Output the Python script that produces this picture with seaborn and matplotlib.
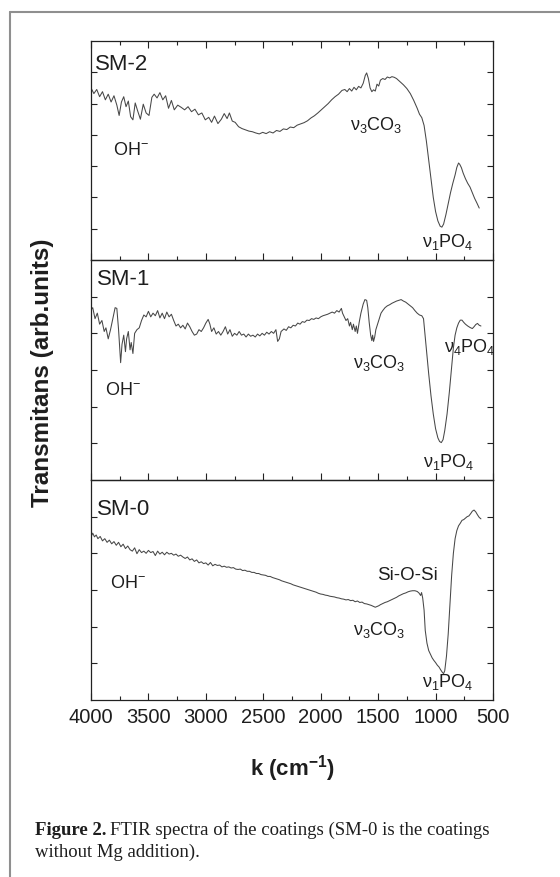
"""
FTIR spectra of the coatings SM-2, SM-1, SM-0 (stacked panels).
"""

import matplotlib
matplotlib.use('Agg')
import matplotlib.pyplot as plt
from matplotlib.lines import Line2D
from matplotlib.ticker import MultipleLocator, FixedLocator, NullFormatter
import seaborn as sns
import pandas as pd

# ---- data (wavenumber in cm-1, transmittance in arb. units) ----
sm2_k = [4000, 3975, 3950, 3925, 3900, 3875, 3850, 3825, 3800, 3775, 3755, 3735,
         3715, 3695, 3675, 3655, 3635, 3615, 3595, 3570, 3545, 3520, 3495, 3470,
         3450, 3425, 3400, 3375, 3350, 3325, 3300, 3275, 3245, 3215, 3185, 3155,
         3125, 3095, 3065, 3035, 3005, 2975, 2950, 2925, 2895, 2865, 2840, 2815,
         2795, 2770, 2745, 2715, 2685, 2655, 2625, 2595, 2565, 2535, 2505, 2475,
         2445, 2415, 2385, 2355, 2325, 2295, 2265, 2235, 2205, 2175, 2145, 2115,
         2085, 2055, 2025, 1995, 1965, 1935, 1905, 1875, 1845, 1815, 1790, 1770,
         1750, 1730, 1710, 1690, 1670, 1650, 1630, 1612, 1600, 1585, 1570, 1555,
         1540, 1525, 1510, 1495, 1480, 1460, 1440, 1420, 1400, 1380, 1360, 1340,
         1310, 1280, 1250, 1220, 1190, 1160, 1140, 1120, 1100, 1080, 1060, 1040,
         1020, 1000, 980, 960, 945, 930, 910, 890, 870, 850, 830, 815, 800, 790,
         775, 760, 740, 720, 700, 680, 660, 640, 620]
sm2_t = [5.50, 5.32, 5.45, 5.22, 5.38, 5.12, 5.30, 5.05, 5.25, 4.95, 4.62, 5.05,
         5.22, 4.90, 5.08, 4.58, 4.48, 5.02, 4.78, 4.50, 4.98, 4.70, 4.62, 5.20,
         5.30, 5.18, 5.35, 5.12, 5.25, 4.85, 5.10, 4.80, 4.95, 4.88, 4.80, 4.90,
         4.74, 4.82, 4.64, 4.70, 4.48, 4.56, 4.40, 4.60, 4.36, 4.50, 4.68, 4.52,
         4.70, 4.44, 4.40, 4.26, 4.20, 4.16, 4.12, 4.10, 4.06, 4.03, 4.08, 4.04,
         4.10, 4.06, 4.14, 4.11, 4.19, 4.17, 4.25, 4.23, 4.31, 4.35, 4.39, 4.45,
         4.54, 4.61, 4.70, 4.80, 4.90, 5.00, 5.12, 5.22, 5.30, 5.42, 5.45, 5.38,
         5.48, 5.40, 5.52, 5.44, 5.55, 5.50, 5.65, 5.90, 5.98, 5.80, 5.50, 5.38,
         5.44, 5.40, 5.62, 5.56, 5.75, 5.80, 5.77, 5.85, 5.82, 5.86, 5.84, 5.80,
         5.70, 5.60, 5.48, 5.32, 5.10, 4.85, 4.66, 4.55, 4.30, 3.80, 3.20, 2.60,
         2.00, 1.55, 1.25, 1.08, 1.05, 1.15, 1.45, 1.80, 2.15, 2.45, 2.72, 2.96,
         3.10, 3.06, 2.95, 2.78, 2.60, 2.45, 2.33, 2.15, 1.97, 1.82, 1.66]

sm1_k = [4000, 3985, 3965, 3945, 3925, 3905, 3885, 3870, 3850, 3830, 3810, 3790,
         3775, 3760, 3742, 3730, 3715, 3700, 3690, 3675, 3660, 3650, 3635, 3620,
         3600, 3580, 3560, 3540, 3520, 3500, 3480, 3460, 3440, 3420, 3400, 3380,
         3360, 3340, 3320, 3300, 3280, 3260, 3240, 3220, 3200, 3180, 3160, 3140,
         3120, 3100, 3080, 3060, 3040, 3020, 3000, 2980, 2965, 2950, 2930, 2910,
         2890, 2870, 2850, 2830, 2810, 2790, 2770, 2750, 2730, 2710, 2690, 2670,
         2650, 2630, 2610, 2590, 2570, 2550, 2530, 2510, 2490, 2470, 2450, 2430,
         2410, 2390, 2375, 2360, 2345, 2320, 2300, 2280, 2260, 2240, 2220, 2200,
         2180, 2160, 2140, 2120, 2100, 2080, 2060, 2040, 2020, 2000, 1980, 1960,
         1940, 1920, 1900, 1880, 1860, 1840, 1820, 1810, 1795, 1780, 1765, 1750,
         1740, 1725, 1715, 1700, 1690, 1680, 1665, 1650, 1630, 1615, 1600, 1590,
         1578, 1565, 1555, 1548, 1540, 1530, 1520, 1505, 1490, 1475, 1460, 1440,
         1420, 1400, 1380, 1360, 1340, 1320, 1300, 1280, 1260, 1240, 1220, 1200,
         1180, 1160, 1140, 1120, 1105, 1090, 1075, 1060, 1040, 1020, 1000, 980,
         965, 950, 935, 920, 900, 880, 860, 845, 830, 815, 800, 785, 770, 755,
         740, 720, 700, 680, 665, 650, 635, 620, 605]
sm1_t = [4.64, 4.70, 4.40, 4.55, 4.25, 4.35, 4.05, 4.15, 3.85, 4.10, 4.40, 4.70,
         4.68, 4.10, 3.20, 3.70, 3.95, 3.50, 3.85, 4.05, 3.55, 3.75, 3.45, 4.00,
         4.10, 4.15, 4.35, 4.50, 4.45, 4.60, 4.45, 4.55, 4.48, 4.62, 4.42, 4.55,
         4.40, 4.58, 4.45, 4.52, 4.35, 4.20, 4.25, 4.15, 4.22, 4.12, 4.28, 4.18,
         4.05, 3.95, 3.98, 4.10, 4.05, 4.15, 4.28, 4.38, 4.25, 4.05, 4.15, 3.98,
         4.05, 3.95, 4.05, 4.18, 3.98, 4.10, 3.92, 4.00, 3.95, 4.05, 3.95, 3.98,
         3.90, 3.98, 3.92, 3.95, 3.90, 3.98, 3.93, 4.00, 3.95, 4.03, 3.98, 4.05,
         4.00, 4.10, 3.78, 3.85, 4.05, 4.12, 4.08, 4.18, 4.15, 4.22, 4.20, 4.28,
         4.25, 4.32, 4.30, 4.36, 4.35, 4.40, 4.38, 4.42, 4.40, 4.45, 4.48, 4.50,
         4.52, 4.55, 4.58, 4.55, 4.62, 4.58, 4.68, 4.55, 4.45, 4.35, 4.40, 4.20,
         4.30, 4.10, 4.25, 4.05, 4.20, 4.00, 4.30, 4.55, 4.80, 4.92, 4.90, 4.70,
         4.30, 3.95, 3.80, 3.95, 3.78, 3.90, 4.10, 4.25, 4.40, 4.55, 4.62, 4.70,
         4.75, 4.78, 4.82, 4.85, 4.88, 4.90, 4.92, 4.88, 4.85, 4.80, 4.75, 4.70,
         4.62, 4.55, 4.50, 4.48, 4.40, 3.90, 3.40, 2.90, 2.30, 1.80, 1.40, 1.15,
         1.05, 1.02, 1.10, 1.35, 1.80, 2.40, 3.10, 3.60, 3.95, 4.15, 4.28, 4.36,
         4.36, 4.30, 4.25, 4.20, 4.16, 4.13, 4.18, 4.24, 4.27, 4.22, 4.20]

sm0_k = [4000, 3985, 3970, 3955, 3940, 3920, 3900, 3880, 3860, 3840, 3820, 3800,
         3780, 3760, 3740, 3720, 3700, 3680, 3660, 3640, 3620, 3600, 3580, 3560,
         3540, 3520, 3500, 3480, 3460, 3440, 3420, 3400, 3380, 3360, 3340, 3320,
         3300, 3280, 3260, 3240, 3220, 3200, 3180, 3160, 3140, 3120, 3100, 3080,
         3060, 3040, 3020, 3000, 2980, 2960, 2940, 2920, 2900, 2880, 2860, 2840,
         2820, 2800, 2780, 2760, 2740, 2720, 2700, 2680, 2660, 2640, 2620, 2600,
         2580, 2560, 2540, 2520, 2500, 2480, 2460, 2440, 2420, 2400, 2380, 2360,
         2340, 2320, 2300, 2280, 2260, 2240, 2220, 2200, 2180, 2160, 2140, 2120,
         2100, 2080, 2060, 2040, 2020, 2000, 1980, 1960, 1940, 1920, 1900, 1880,
         1860, 1840, 1820, 1800, 1780, 1760, 1740, 1720, 1700, 1680, 1660, 1640,
         1620, 1600, 1580, 1560, 1540, 1525, 1510, 1495, 1480, 1460, 1440, 1420,
         1400, 1380, 1360, 1340, 1320, 1300, 1280, 1260, 1240, 1220, 1200, 1180,
         1160, 1145, 1130, 1122, 1112, 1100, 1090, 1075, 1060, 1045, 1030, 1015,
         1000, 985, 970, 955, 940, 930, 920, 905, 890, 875, 860, 845, 830, 815,
         800, 785, 770, 755, 740, 725, 710, 695, 680, 665, 650, 635, 620, 605]
sm0_t = [4.45, 4.55, 4.45, 4.50, 4.40, 4.46, 4.34, 4.40, 4.30, 4.36, 4.26, 4.32,
         4.22, 4.30, 4.18, 4.25, 4.13, 4.20, 4.10, 4.06, 4.15, 3.99, 4.10, 4.02,
         4.06, 4.00, 4.08, 4.02, 4.05, 3.94, 4.06, 3.98, 4.03, 3.96, 4.03, 3.98,
         4.00, 3.95, 3.98, 3.92, 3.95, 3.90, 3.86, 3.90, 3.82, 3.85, 3.78, 3.82,
         3.74, 3.77, 3.72, 3.74, 3.68, 3.75, 3.66, 3.70, 3.67, 3.68, 3.63, 3.65,
         3.62, 3.63, 3.60, 3.61, 3.57, 3.56, 3.57, 3.53, 3.54, 3.51, 3.51, 3.48,
         3.48, 3.45, 3.45, 3.42, 3.41, 3.40, 3.37, 3.37, 3.34, 3.32, 3.30, 3.28,
         3.25, 3.23, 3.21, 3.19, 3.17, 3.14, 3.12, 3.10, 3.08, 3.06, 3.04, 3.02,
         3.00, 2.98, 2.96, 2.94, 2.91, 2.89, 2.88, 2.86, 2.85, 2.83, 2.82, 2.81,
         2.79, 2.78, 2.76, 2.75, 2.73, 2.74, 2.71, 2.72, 2.68, 2.70, 2.66, 2.67,
         2.63, 2.62, 2.60, 2.58, 2.55, 2.53, 2.55, 2.57, 2.60, 2.63, 2.66, 2.68,
         2.71, 2.74, 2.77, 2.80, 2.84, 2.87, 2.90, 2.92, 2.95, 2.97, 2.98, 2.98,
         2.96, 2.92, 2.85, 2.93, 2.78, 2.45, 1.90, 1.55, 1.35, 1.25, 1.15, 1.08,
         1.02, 0.95, 0.90, 0.82, 0.75, 0.72, 0.80, 1.20, 1.80, 2.60, 3.40, 4.00,
         4.40, 4.62, 4.75, 4.82, 4.90, 4.92, 4.96, 5.00, 5.02, 5.08, 5.15, 5.18,
         5.13, 5.05, 4.98, 4.94]

panel_names = ['SM-2', 'SM-1', 'SM-0']
x_ticks = [4000, 3500, 3000, 2500, 2000, 1500, 1000, 500]

# ---- style ----
sns.set_style('ticks')
plt.rcParams['font.family'] = ['Liberation Sans', 'DejaVu Sans']
plt.rcParams['mathtext.fontset'] = 'custom'
plt.rcParams['mathtext.rm'] = 'Liberation Sans'
plt.rcParams['mathtext.it'] = 'Liberation Sans:italic'
plt.rcParams['mathtext.bf'] = 'Liberation Sans:bold'

W, H = 560, 877
fig = plt.figure(figsize=(W / 100, H / 100), dpi=100)
fig.patch.set_facecolor('white')

line_col = '#474747'
txt_col = '#1e1e1e'
left, right = 91, 493
panel_px = [(41, 260), (260, 480), (480, 700)]
series = [(sm2_k, sm2_t), (sm1_k, sm1_t), (sm0_k, sm0_t)]
ylims = [7, 6, 6]

axes = []
for i, ((top, bot), (kk, tt)) in enumerate(zip(panel_px, series)):
    ax = fig.add_axes([left / W, 1 - bot / H, (right - left) / W, (bot - top) / H])
    df = pd.DataFrame({'k': kk, 't': tt})
    sns.lineplot(data=df, x='k', y='t', ax=ax, sort=False, estimator=None,
                 color=line_col, linewidth=0.75)
    ax.set_xlim(4000, 500)
    ax.set_ylim(0, ylims[i])
    ax.xaxis.set_major_locator(FixedLocator(x_ticks))
    ax.xaxis.set_minor_locator(MultipleLocator(250))
    ax.yaxis.set_major_locator(FixedLocator(list(range(1, ylims[i]))))
    ax.yaxis.set_major_formatter(NullFormatter())
    ax.tick_params(axis='y', which='major', direction='in', left=True, right=True,
                   length=4.5, width=0.8, color='#222222')
    ax.tick_params(axis='x', which='major', direction='in', bottom=True, top=(i == 0),
                   length=5, width=0.8, color='#222222', labelsize=14.5,
                   labelcolor=txt_col, pad=6)
    ax.tick_params(axis='x', which='minor', direction='in', bottom=True, top=(i == 0),
                   length=3, width=0.8, color='#222222')
    if i < 2:
        ax.xaxis.set_major_formatter(NullFormatter())
    for sp in ax.spines.values():
        sp.set_visible(True)
        sp.set_linewidth(0.9)
        sp.set_color('#222222')
    ax.set_xlabel('')
    ax.set_ylabel('')
    ax.set_facecolor('none')
    axes.append(ax)

ax2, ax1, ax0 = axes

def label(ax, x, y, s, size=13):
    ax.text(x, y, s, transform=ax.transAxes, ha='left', va='baseline',
            fontsize=size, color=txt_col)

nu3 = 'ν$_{3}$CO$_{3}$'
nu1 = 'ν$_{1}$PO$_{4}$'
nu4 = 'ν$_{4}$PO$_{4}$'
oh = 'OH$^{-}$'

# SM-2
label(ax2, 0.010, 0.868, panel_names[0], 16)
label(ax2, 0.055, 0.479, oh)
label(ax2, 0.644, 0.594, nu3)
label(ax2, 0.823, 0.059, nu1)
# SM-1
label(ax1, 0.015, 0.886, panel_names[1], 16)
label(ax1, 0.035, 0.386, oh)
label(ax1, 0.652, 0.509, nu3)
label(ax1, 0.878, 0.582, nu4)
label(ax1, 0.826, 0.059, nu1)
# SM-0
label(ax0, 0.015, 0.841, panel_names[2], 16)
label(ax0, 0.047, 0.509, oh)
label(ax0, 0.711, 0.545, 'Si-O-Si', 13.5)
label(ax0, 0.652, 0.295, nu3)
label(ax0, 0.823, 0.059, nu1)

# axis titles
fig.text(43 / W, 1 - 373 / H, 'Transmitans (arb.units)', rotation=90,
         ha='center', va='center', fontsize=17.5, fontweight='bold', color=txt_col)
fig.text(292 / W, 1 - 775 / H, 'k (cm$^{\\mathbf{-1}}$)', ha='center', va='baseline',
         fontsize=16, fontweight='bold', color=txt_col)

# caption
serif = ['Liberation Serif', 'DejaVu Serif']
cap_b = fig.text(35 / W, 1 - 835 / H, 'Figure 2.', family=serif, fontweight='bold',
                 fontsize=13.5, ha='left', va='baseline', color=txt_col)
fig.canvas.draw()
bb = cap_b.get_window_extent(renderer=fig.canvas.get_renderer())
fig.text((bb.x1 + 4) / W, 1 - 835 / H,
         'FTIR spectra of the coatings (SM-0 is the coatings', family=serif,
         fontsize=13.5, ha='left', va='baseline', color=txt_col)
fig.text(35 / W, 1 - 857 / H, 'without Mg addition).', family=serif,
         fontsize=13.5, ha='left', va='baseline', color=txt_col)

# page frame
frame_col = '#8f8f8f'
fig.add_artist(Line2D([10 / W, 1.0], [1 - 12 / H, 1 - 12 / H], transform=fig.transFigure,
                      color=frame_col, linewidth=1.5))
fig.add_artist(Line2D([10 / W, 10 / W], [1 - 12 / H, 0.0], transform=fig.transFigure,
                      color=frame_col, linewidth=1.5))

fig.savefig('out.png', dpi=100)
print('Saved: out.png')
